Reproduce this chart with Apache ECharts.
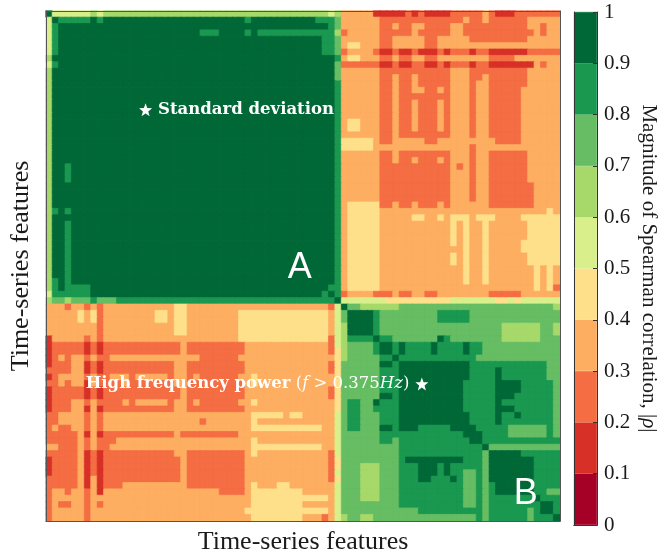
<!DOCTYPE html>
<html>
<head>
<meta charset="utf-8">
<script src="https://cdn.jsdelivr.net/npm/echarts@6/dist/echarts.min.js"></script>
<style>html,body{margin:0;padding:0;background:#fff}#c{width:660px;height:560px}</style>
</head>
<body>
<div id="c"></div>
<script>
// ---------- DATA ----------
const featureCount = 80;
const features = Array.from({length: featureCount}, (_, i) => 'F' + (i + 1));
// colour classes of |rho| (bin k covers [k/10, (k+1)/10))
const levelEdges = [0, 0.1, 0.2, 0.3, 0.4, 0.5, 0.6, 0.7, 0.8, 0.9, 1];
const levelColors = ['#a50026', '#d73027', '#f46d43', '#fdae61', '#fee08b',
                     '#d9ef8b', '#a6d96a', '#66bd63', '#1a9850', '#006837'];
const colorbarTicks = [0, 0.1, 0.2, 0.3, 0.4, 0.5, 0.6, 0.7, 0.8, 0.9, 1];
// Upper triangle of the |rho| class matrix.
// Row i starts at the diagonal (column i). Tokens "vxn" = class v repeated n times.
const upperRows = [
"9 5x6 6 5 6x35 5 6 3x5 1x5 2 1 2 1x4 2x5 3 2 1x3 2x7",
"9 8x5 9 8 9x22 8 9x10 8x3 7 3x6 2x13 3 2x2 3 2x6 3x5",
"9x42 8 7 3x6 2x2 3 2x2 3x2 2x4 3x2 2x10 3x2 2 3x2",
"9x21 8x3 9x4 8 9 8x12 6 2 3x5 2x5 3 2x5 3x2 2x11 3 2 3x2",
"9x39 8x2 7 3x6 2x2 3x5 2x2 3x5 2x9 3x5",
"9x38 8x2 7 3 4x2 3x3 2x2 3x5 2x2 3x19",
"9x37 8x2 7 2 3x4 2 1x2 2 1x2 2 1x3 2 1 2x3 1 2x2 1x6 2x5",
"9x38 8 3 4x2 3x3 2x2 3 2x2 3x2 2x2 3x8 2x4 3x7",
"9x37 7 2x6 1x2 2 1x2 2x2 1x2 2 1 2x3 1 2x2 1x7 3 2 3x2",
"9x36 7 3x6 2x11 3x3 2x9 3x5",
"9x35 7 3x6 2x2 3 2x2 3 2x5 3x3 2x2 3 2x6 3x5",
"9x34 8 3x6 2x2 3 2x2 3 2x5 3x3 2 3x2 2x6 3x5",
"9x33 8 3x6 2x2 3 2x2 3x2 2x2 3 2 3x3 2 3x2 2x5 3x6",
"9x32 8 3x6 2x2 3 2x8 3x3 2 3x2 2x5 3x6",
"9x31 8 3x6 2x2 3 2x2 3 2x3 3 2 3x3 2 3x2 2x5 3x6",
"9x30 8 3x6 2x2 3 2x2 3 2x3 3 2 3x3 2 3x2 2x5 3x6",
"9x29 8 3x6 2x2 3 2x2 3 2x3 3 2 3x3 2 3x2 2x5 3x6",
"9x28 8 3 4x2 3x3 2x2 3 2x2 3 2x3 3 2 3x3 2 3x2 2x5 3x6",
"9x27 8 3 4x2 3x3 2x2 3 2x2 3 2x3 3 2 3x3 2 3x2 2x5 3x6",
"9x26 8 3x6 2x2 3 2x8 3x3 2 3x2 2x5 3x6",
"9x25 8 4x5 3 2x2 3x5 2x2 3x9 2x4 3x6",
"9x24 8 4x5 3x15 2 3x13",
"9x23 8 3x6 2x2 3 2x8 3x3 2 3x2 2x6 3x5",
"9x22 8 3x6 2x2 3 2x2 3 2x3 3 2 3x3 2 3x2 2x6 3x5",
"9x21 8 3x6 2x11 3 2 3 2 3x2 2x6 3x5",
"9x20 8 3x6 2x11 3x3 2 3x2 2x6 3x5",
"9x19 8 3x6 2x11 3x3 2 3x2 2x6 3x5",
"9x18 8 3x6 2x11 3x3 2 3x2 2x7 3x4",
"9x17 8 3x6 2x11 3x3 2 3x2 2x7 3x4",
"9x16 8 3x6 2x11 3x3 2 3x2 2x7 3x4",
"9x15 8 3 4x5 2x2 3 2x2 3 2x3 3 2 3x6 2x7 3x4",
"9x14 8 3 4x5 3x26 4 3",
"9x13 8 3 4x5 3x5 4x2 3x2 4 3 4x3 3 4x3 3x4 4x6",
"9x12 8 3 4x5 3x11 4 3 4 3x2 4 3x6 4x5",
"9x11 8 3 4x5 3x11 4 3 4 3x2 4 3x6 4x5",
"9x10 8 3 4x5 3x11 4 3 4 3x2 4 3x6 4x5",
"9x9 8 3 4x5 3x11 4 3 4 3x2 4 3x5 4x6",
"9x8 8 3 4x5 3x13 4 3x2 4 3x5 4x6",
"9x7 8 3 4x5 3x11 4 3 4 3x2 4 3x6 4x5",
"9x6 8 3 4x5 3x11 4 3 4 3x2 4 3x6 4x5",
"9x5 8 3 4x5 3x13 4 3x2 4 3x7 4 3 4 3",
"9x4 8 3 4x5 3x13 4 3x2 4 3x7 4 3 4 3",
"9x3 8 3 4x5 3x13 4 3x2 4 3x7 4 3 4 3",
"9 8x2 3 4x5 3x24 4 3 4 2",
"9 8 2 3x4 2x3 3 2x2 3x2 2x2 3x8 2x5 3x6",
"9 5x7 4x10 5x7 4x2 5 4 5x6",
"9 7x2 6x6 7x24 6",
"9x4 8 7x9 8x5 7x14",
"9x3 8 7x9 8x5 7x14",
"9x2 8 7x19 6x6 7x2 6",
"9 8 7x19 6x6 7x2 6",
"9 8x2 7x7 9 8 7x8 6x6 7x3",
"9 9 8 9 8x4 9 8x4 9 8x2 7x12",
"9 8 9 8x4 9 8x4 9 8x2 7x12",
"9 8x12 7x13",
"9x11 8x12 7x2",
"9x10 8x4 9 8x7 7x2",
"9x9 8x4 9 8x7 7x2",
"9x7 8x5 9x4 8x5 7",
"9x6 8x5 9x4 8x5 7",
"9x5 8x5 9x3 8x6 7",
"9x4 8x5 9 8x8 7",
"9x3 8x5 9x3 8x6 7",
"9x3 8x4 9 8x2 9 8x5 7",
"9x2 8x4 9 8x8 7",
"9 9 8x5 7x6 8 7",
"9 9 8x4 7x6 8 7",
"9 8x12",
"9 7x11",
"9x5 8x6",
"9x6 8x4",
"9x5 8x4",
"9x4 8x4",
"9x3 8x4",
"9x2 8x4",
"9 8x2 7x2",
"9 8x3",
"9x2 8",
"9 8",
"9"
];
// annotations: [feature index on the diagonal, text]
const markedFeatures = [
  {index: 15, text: 'Standard deviation'},
  {index: 58, text: 'High frequency power'}
];
const clusterLabels = [
  {index: 39, text: 'A'},
  {index: 74, text: 'B'}
];
const xTitle = 'Time-series features';
const yTitle = 'Time-series features';
const cbTitle = 'Magnitude of Spearman correlation, ';

// ---------- BUILD ----------
function decodeRow(s) {
  const out = [];
  s.trim().split(/\s+/).forEach(t => {
    const p = t.split('x');
    const v = parseInt(p[0], 10);
    const n = p.length > 1 ? parseInt(p[1], 10) : 1;
    for (let k = 0; k < n; k++) out.push(v);
  });
  return out;
}
const M = Array.from({length: featureCount}, () => new Array(featureCount).fill(8));
upperRows.forEach((s, i) => {
  const r = decodeRow(s);
  if (r.length !== featureCount - i) console.warn('row', i, 'length', r.length, 'expected', featureCount - i);
  for (let k = 0; k < r.length && i + k < featureCount; k++) {
    M[i][i + k] = r[k];
    M[i + k][i] = r[k];
  }
});
function classOf(v) {
  for (let k = 0; k < levelColors.length; k++) {
    if (v >= levelEdges[k] && (v < levelEdges[k + 1] || k === levelColors.length - 1)) return k;
  }
  return 0;
}
const heatData = [];
for (let y = 0; y < featureCount; y++) {
  for (let x = 0; x < featureCount; x++) {
    const v = (M[y][x] + 0.5) / 10;
    const col = levelColors[classOf(v)];
    heatData.push({value: [x, y, v], itemStyle: {color: col, borderColor: col, borderWidth: 0.7}});
  }
}

const serif = 'Liberation Serif';
const starPath = 'path://M12,1.5 L14.8,9 L22.8,9.2 L16.5,14.1 L18.7,21.8 L12,17.3 L5.3,21.8 L7.5,14.1 L1.2,9.2 L9.2,9 Z';

const chart = echarts.init(document.getElementById('c'), null, {renderer: 'canvas'});

const cbSeries = levelColors.map((c, k) => ({
  type: 'bar', xAxisIndex: 2, yAxisIndex: 2, stack: 'cb', barWidth: '100%',
  data: [levelEdges[k + 1] - levelEdges[k]],
  itemStyle: {color: c, borderColor: c, borderWidth: 0.5}, silent: true, z: 1
}));

const annFont = 16.5;
const markData = [
  {
    coord: [markedFeatures[0].index, markedFeatures[0].index],
    symbol: starPath, symbolSize: 13, itemStyle: {color: '#ffffff', borderWidth: 0},
    label: {show: true, position: 'right', distance: 6, formatter: markedFeatures[0].text,
      color: '#ffffff', fontFamily: 'DejaVu Serif', fontWeight: 'bold', fontSize: annFont}
  },
  {
    coord: [markedFeatures[1].index, markedFeatures[1].index],
    symbol: starPath, symbolSize: 13, itemStyle: {color: '#ffffff', borderWidth: 0},
    label: {show: true, position: 'left', distance: 6,
      formatter: '{b|' + markedFeatures[1].text + '} {m|(}{i|f}{m| > 0.375}{i|Hz}{m|)}',
      color: '#ffffff', fontSize: annFont, fontFamily: 'DejaVu Serif',
      rich: {
        b: {fontFamily: 'DejaVu Serif', fontWeight: 'bold', fontSize: annFont, color: '#fff'},
        m: {fontFamily: 'DejaVu Serif', fontSize: annFont, color: '#fff'},
        i: {fontFamily: 'DejaVu Serif', fontStyle: 'italic', fontSize: annFont, color: '#fff'}
      }}
  },
  {
    coord: [clusterLabels[0].index, clusterLabels[0].index],
    symbol: 'rect', symbolSize: 0, itemStyle: {borderWidth: 0},
    label: {show: true, position: 'inside', offset: [0, 5], formatter: clusterLabels[0].text,
      color: '#ffffff', fontFamily: 'Liberation Sans', fontSize: 36}
  },
  {
    coord: [clusterLabels[1].index, clusterLabels[1].index],
    symbol: 'rect', symbolSize: 0, itemStyle: {borderWidth: 0},
    label: {show: true, position: 'inside', offset: [1, 8], formatter: clusterLabels[1].text,
      color: '#ffffff', fontFamily: 'Liberation Sans', fontSize: 36}
  }
];

const frame = {show: true, lineStyle: {color: '#555555', width: 1}};
const cbFrame = {show: true, lineStyle: {color: '#333333', width: 1}};
const none = {show: false};

chart.setOption({
  animation: false,
  backgroundColor: '#ffffff',
  grid: [
    {left: 45, top: 11, width: 515, height: 515},
    {left: 574, top: 12, width: 29, height: 513}
  ],
  xAxis: [
    {type: 'category', gridIndex: 0, data: features, position: 'bottom', z: 5,
     axisLine: frame, axisTick: none, axisLabel: none, splitLine: none,
     name: xTitle, nameLocation: 'middle', nameGap: 8,
     nameTextStyle: {fontFamily: serif, fontSize: 26, color: '#1a1a1a', verticalAlign: 'top'}},
    {type: 'category', gridIndex: 0, data: features, position: 'top', z: 5,
     axisLine: frame, axisTick: none, axisLabel: none, splitLine: none},
    {type: 'category', gridIndex: 1, data: ['|rho|'], position: 'bottom', z: 5,
     axisLine: cbFrame, axisTick: none, axisLabel: none, splitLine: none},
    {type: 'category', gridIndex: 1, data: ['|rho|'], position: 'top', z: 5,
     axisLine: cbFrame, axisTick: none, axisLabel: none, splitLine: none}
  ],
  yAxis: [
    {type: 'category', gridIndex: 0, data: features, inverse: true, position: 'left', z: 5,
     axisLine: frame, axisTick: none, axisLabel: none, splitLine: none,
     name: yTitle, nameLocation: 'middle', nameGap: 12,
     nameTextStyle: {fontFamily: serif, fontSize: 26, color: '#1a1a1a'}},
    {type: 'category', gridIndex: 0, data: features, inverse: true, position: 'right', z: 5,
     axisLine: frame, axisTick: none, axisLabel: none, splitLine: none},
    {type: 'value', gridIndex: 1, min: 0, max: 1, interval: 0.1, position: 'right', z: 5,
     axisLine: cbFrame, axisTick: {show: true, inside: true, length: 4, lineStyle: {color: '#333'}},
     axisLabel: {fontFamily: serif, fontSize: 21, color: '#1a1a1a', margin: 7,
       formatter: v => String(Math.round(v * 10) / 10)},
     splitLine: none,
     name: cbTitle + '|{i|ρ}|', nameLocation: 'middle', nameRotate: -90, nameGap: 41,
     nameTextStyle: {fontFamily: serif, fontSize: 21, color: '#1a1a1a',
       rich: {i: {fontFamily: serif, fontStyle: 'italic', fontSize: 21, color: '#1a1a1a'}}}},
    {type: 'value', gridIndex: 1, min: 0, max: 1, position: 'left', z: 5,
     axisLine: cbFrame, axisTick: none, axisLabel: none, splitLine: none}
  ],
  series: [
    {
      type: 'heatmap', xAxisIndex: 0, yAxisIndex: 0, data: heatData,
      emphasis: {disabled: true}, silent: true,
      progressive: 0,
      markPoint: {silent: true, animation: false, data: markData}
    }
  ].concat(cbSeries)
});
</script>
</body>
</html>
